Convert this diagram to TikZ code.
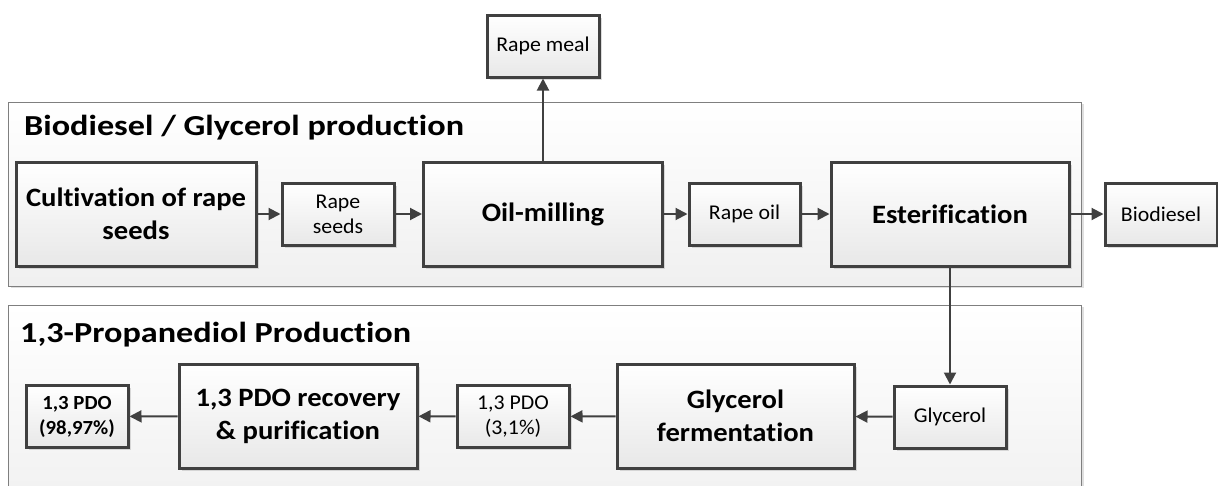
\documentclass[tikz,border=0pt]{standalone}
\usepackage{fontspec}
\setmainfont{Carlito}[Ligatures=NoCommon]
\newfontfamily\titlefont{Carlito}[FakeStretch=1.18, Ligatures=NoCommon]
\newfontfamily\stepfont{Carlito}[FakeStretch=1.08, Ligatures=NoCommon]
\newfontfamily\itemfont{Carlito}[FakeStretch=1.04, Ligatures=NoCommon]
\usetikzlibrary{arrows.meta,shadows}
\definecolor{edgegray}{HTML}{404040}
\definecolor{panelgray}{HTML}{7F7F7F}
\begin{document}
\begin{tikzpicture}[x=1pt,y=-1pt,
  panel/.style={draw=panelgray, line width=0.9pt, top color=white, bottom color=black!6,
    drop shadow={shadow xshift=3pt, shadow yshift=-2pt, fill=black!25, opacity=0.5}},
  box/.style={draw=edgegray, line width=3pt, top color=white, bottom color=black!9,
    align=center, inner sep=2pt,
    drop shadow={shadow xshift=2.5pt, shadow yshift=-2.5pt, fill=black!30, opacity=0.45}},
  bigbox/.style={box, minimum width=238pt, minimum height=104pt,
    font=\stepfont\fontsize{26.5}{33}\selectfont\bfseries},
  smallbox/.style={box, minimum width=112pt, minimum height=62pt,
    font=\itemfont\fontsize{21}{25}\selectfont},
  paneltitle/.style={anchor=base west, inner sep=0pt,
    font=\titlefont\fontsize{29}{34}\selectfont\bfseries},
  flow/.style={draw=edgegray, line width=2pt, -{Triangle[length=12pt,width=12pt]}},
]
\useasboundingbox (0,0) rectangle (1218,485);

% panels
\path[panel] (8,102) rectangle (1081,286);
\begin{scope}
  \clip (0,0) rectangle (1218,485);
  \path[panel] (8,305) rectangle (1081,520);
\end{scope}
\node[paneltitle] (title1) at (24,135) {Biodiesel / Glycerol production};
\node[paneltitle] (title2) at (20,342) {1,3-Propanediol Production};

% biodiesel / glycerol chain
\node[bigbox, minimum width=240pt] (cult) at (136,214) {Cultivation of rape\\seeds};
\node[smallbox] (seeds) at (338,214) {Rape\\seeds};
\node[bigbox, minimum width=239pt] (mill) at (543,214) {Oil-milling};
\node[smallbox] (meal) at (543,46) {Rape meal};
\node[smallbox, minimum width=111pt] (oil) at (744.5,214) {Rape oil};
\node[bigbox] (est) at (950,214) {Esterification};
\node[smallbox] (bio) at (1161,214) {Biodiesel};

% 1,3-propanediol chain
\node[smallbox] (gly) at (950,417) {Glycerol};
\node[bigbox, minimum width=237pt] (ferm) at (735.5,416) {Glycerol\\fermentation};
\node[smallbox] (pdo1) at (513,416.5) {1,3 PDO\\(3,1\%)};
\node[bigbox] (rec) at (298,416) {1,3 PDO recovery\\\& purification};
\node[smallbox, minimum width=102pt, font=\itemfont\fontsize{20}{25}\selectfont\bfseries] (pdo2) at (77,416.5) {1,3 PDO\\(98,97\%)};

% flows
\draw[flow] (cult) -- (seeds);
\draw[flow] (seeds) -- (mill);
\draw[flow] (mill) -- (meal);
\draw[flow] (mill) -- (oil);
\draw[flow] (oil) -- (est);
\draw[flow] (est) -- (bio);
\draw[flow] (est) -- (gly);
\draw[flow] (gly) -- (ferm);
\draw[flow] (ferm) -- (pdo1);
\draw[flow] (pdo1) -- (rec);
\draw[flow] (rec) -- (pdo2);
\end{tikzpicture}
\end{document}
